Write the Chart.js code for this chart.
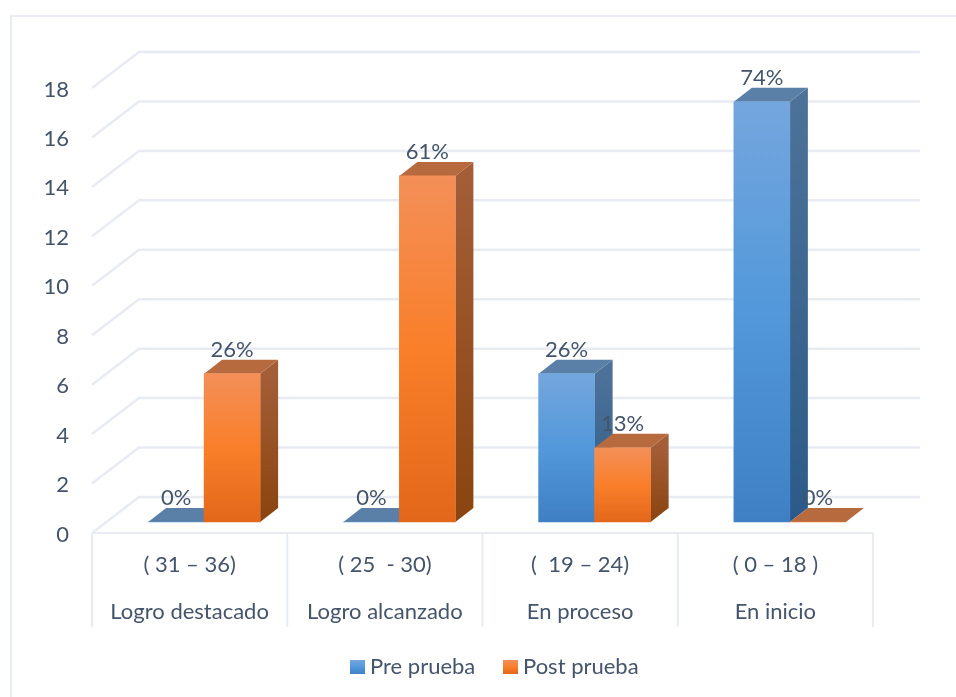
<!DOCTYPE html>
<html>
<head>
<meta charset="utf-8">
<style>
html, body { margin: 0; padding: 0; background: #fff; }
#wrap { width: 956px; height: 697px; }
canvas { display: block; filter: blur(0.4px); }
</style>
<script src="https://cdn.jsdelivr.net/npm/chart.js@4"></script>
</head>
<body>
<div id="wrap"><canvas id="myChart" width="956" height="697"></canvas></div>
<script>
const categories = [
  ['( 31 – 36)', 'Logro destacado'],
  ['( 25  - 30)', 'Logro alcanzado'],
  ['(  19 – 24)', 'En proceso'],
  ['( 0 – 18 )', 'En inicio']
];
const seriesNames = ['Pre prueba', 'Post prueba'];
const preValues = [0, 0, 6, 17];
const postValues = [6, 14, 3, 0];
const preLabels = ['0%', '0%', '26%', '74%'];
const postLabels = ['26%', '61%', '13%', '0%'];
const yTicks = [0, 2, 4, 6, 8, 10, 12, 14, 16, 18];

const textColor = '#44546a';
const lineColor = '#e8ebf2';
const font = 'Lato';

// front + side + top colours of each series
const preFace = ['#74a6de', '#5298da', '#3f80c4'];
const postFace = ['#f38f58', '#f97f2a', '#e2671a'];
const preSide = ['#4d7298', '#2c5a88'];
const postSide = ['#a35e38', '#8a440f'];
const topColors = ['#5a80a8', '#b86a3f'];

// the bars stand a bit behind the front of the floor, the wall at the back of it
const barShift = { x: 14.5, y: -11 };
const barDepth = { x: 18, y: -14 };
const wallDepth = { x: 47, y: -36 };

const faceGradient = (c, top, bottom, colors) => {
  const g = c.createLinearGradient(0, top, 0, bottom);
  g.addColorStop(0, colors[0]);
  g.addColorStop(0.5, colors[1]);
  g.addColorStop(1, colors[2]);
  return g;
};

const frontGradient = (ctx, colors) => {
  const y = ctx.chart.scales.y;
  if (!y) return colors[1];
  const top = y.getPixelForValue(ctx.raw || 0);
  const bottom = y.getPixelForValue(0);
  // scale has no pixels yet on the first pass
  if (!isFinite(top) || !isFinite(bottom) || top === bottom) return colors[1];
  return faceGradient(ctx.chart.ctx, top, bottom, colors);
};

const poly = (c, pts, fill) => {
  c.beginPath();
  pts.forEach((p, i) => i ? c.lineTo(p[0], p[1]) : c.moveTo(p[0], p[1]));
  c.closePath();
  c.fillStyle = fill;
  c.fill();
};

const drawWall = chart => {
  const c = chart.ctx;
  const { x, y } = chart.scales;
  const left = chart.chartArea.left;
  const right = chart.chartArea.right;
  const zero = y.getPixelForValue(0);
  c.save();
  // picture frame
  c.strokeStyle = lineColor;
  c.lineWidth = 2;
  c.beginPath();
  c.moveTo(11, 697);
  c.lineTo(11, 16);
  c.lineTo(956, 16);
  c.stroke();
  // wall lines
  c.lineWidth = 2.5;
  yTicks.forEach(v => {
    const py = y.getPixelForValue(v);
    c.beginPath();
    c.moveTo(left, py);
    c.lineTo(left + wallDepth.x, py + wallDepth.y);
    c.lineTo(right + wallDepth.x, py + wallDepth.y);
    c.stroke();
  });
  // front of the floor and category dividers
  c.lineWidth = 2;
  c.beginPath();
  c.moveTo(left, zero);
  c.lineTo(right, zero);
  const step = (right - left) / categories.length;
  categories.forEach((_, i) => {
    const px = x.getPixelForValue(i) - step / 2;
    c.moveTo(px, zero);
    c.lineTo(px, 627);
  });
  c.moveTo(right, zero);
  c.lineTo(right, 627);
  c.stroke();
  c.restore();
};

const drawBars = (chart, index) => {
  const c = chart.ctx;
  const meta = chart.getDatasetMeta(index);
  const side = index === 0 ? preSide : postSide;
  c.save();
  c.translate(barShift.x, barShift.y);
  meta.data.forEach(bar => {
    const p = bar.getProps(['x', 'y', 'base', 'width'], true);
    const l = p.x - p.width / 2;
    const r = p.x + p.width / 2;
    const dx = barDepth.x;
    const dy = barDepth.y;
    if (p.base - p.y > 0) {
      const g = c.createLinearGradient(0, p.y, 0, p.base);
      g.addColorStop(0, side[0]);
      g.addColorStop(1, side[1]);
      poly(c, [[r, p.y], [r + dx, p.y + dy], [r + dx, p.base + dy], [r, p.base]], g);
    }
    poly(c, [[l, p.y], [r, p.y], [r + dx, p.y + dy], [l + dx, p.y + dy]], topColors[index]);
  });
  meta.controller.draw();
  c.restore();
};

const drawValueLabels = chart => {
  const c = chart.ctx;
  c.save();
  c.fillStyle = textColor;
  c.font = '22px ' + font;
  c.textAlign = 'center';
  c.textBaseline = 'middle';
  [preLabels, postLabels].forEach((labels, d) => {
    chart.getDatasetMeta(d).data.forEach((bar, i) => {
      const p = bar.getProps(['x', 'y'], true);
      c.fillText(labels[i], p.x + barShift.x, p.y + barShift.y - 24);
    });
  });
  c.restore();
};

const drawLegend = chart => {
  const c = chart.ctx;
  c.save();
  c.font = '22px ' + font;
  c.textAlign = 'left';
  c.textBaseline = 'middle';
  [350, 503].forEach((x, i) => {
    c.fillStyle = faceGradient(c, 660, 674, [preFace, postFace][i]);
    c.fillRect(x, 660, 15, 14);
    c.fillStyle = textColor;
    c.fillText(seriesNames[i], x + 20, 667);
  });
  c.restore();
};

const scenePlugin = {
  id: 'scene',
  // datasets go in by hand so that Post prueba lands over Pre prueba
  beforeDatasetDraw: () => false,
  beforeDatasetsDraw: chart => drawWall(chart),
  afterDatasetsDraw(chart) {
    drawBars(chart, 0);
    drawBars(chart, 1);
    drawValueLabels(chart);
    drawLegend(chart);
  }
};

new Chart(document.getElementById('myChart'), {
  type: 'bar',
  data: {
    labels: categories,
    datasets: [
      { label: seriesNames[0], data: preValues, clip: false,
        backgroundColor: ctx => frontGradient(ctx, preFace) },
      { label: seriesNames[1], data: postValues, clip: false,
        backgroundColor: ctx => frontGradient(ctx, postFace) }
    ]
  },
  options: {
    responsive: false,
    animation: false,
    barThickness: 56,
    layout: { padding: { left: 34, right: 83, top: 88, bottom: 51 } },
    scales: {
      x: {
        grid: { display: false },
        border: { display: false },
        afterFit: s => { s.height = 113; },
        ticks: {
          color: textColor,
          padding: 0,
          maxRotation: 0,
          autoSkip: false,
          font: { family: font, size: 22, lineHeight: '47px' }
        }
      },
      y: {
        min: 0,
        max: 18,
        grid: { display: false },
        border: { display: false },
        afterFit: s => { s.width = 58; },
        afterBuildTicks: s => { s.ticks = yTicks.map(v => ({ value: v })); },
        ticks: {
          color: textColor,
          padding: 15,
          labelOffset: 1.5,
          font: { family: font, size: 22 }
        }
      }
    },
    plugins: {
      tooltip: { enabled: false },
      legend: { display: false }
    }
  },
  plugins: [scenePlugin]
});
</script>
</body>
</html>
